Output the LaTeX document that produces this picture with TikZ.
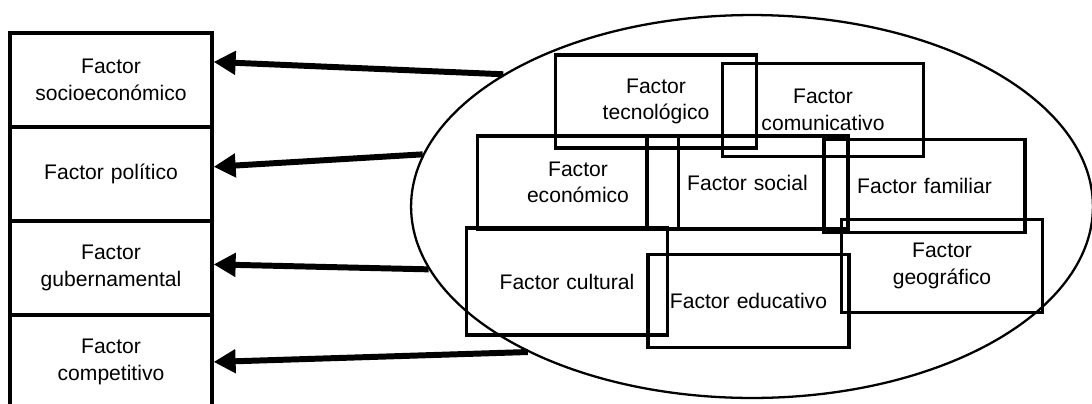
\documentclass[tikz,border=0pt]{standalone}
\usepackage{fontspec}
\setmainfont{Liberation Sans}
\usetikzlibrary{shapes,arrows.meta,positioning}

\begin{document}
\begin{tikzpicture}[x=0.02cm, y=-0.02cm, node distance=1.88cm]
    % Styles
    \tikzstyle{lado} = [rectangle, draw, line width=1.9pt, text width=3.8cm, align=center, minimum width=4.04cm, minimum height=1.88cm, inner sep=0pt, font=\fontsize{12}{15}\selectfont]
    \tikzstyle{factor} = [rectangle, draw, line width=1.9pt, text width=3.8cm, align=center, minimum width=4.02cm, minimum height=1.86cm, inner sep=0pt, font=\fontsize{12}{15}\selectfont]
    \tikzstyle{arrow} = [line width=3.4pt, -{Triangle[length=12.5pt,width=13pt]}]

    \useasboundingbox (0,0) rectangle (1092,403);

    % Left column
    \node [lado] (soc) at (111,80) {Factor\\socioeconómico};
    \node [lado, below of=soc] (pol) {Factor político};
    \node [lado, below of=pol] (gub) {Factor\\gubernamental};
    \node [lado, below of=gub] (comp) {Factor\\competitivo};

    % Ellipse and inner factors
    \node [ellipse, draw, line width=1.3pt, minimum width=13.64cm, minimum height=7.66cm, inner sep=0pt] (grupo) at (752,206.5) {};
    \node [factor] (tec) at (656,101.5) {Factor\\tecnológico};
    \node [factor] (comu) at (823,110) {Factor\\comunicativo};
    \node [factor] (eco) at (578,182.5) {Factor\\económico};
    \node [factor] (soci) at (747.5,182.5) {Factor social};
    \node [factor] (fam) at (924.5,186) {Factor familiar};
    \node [factor, minimum height=2.14cm] (cul) at (567,281.5) {Factor cultural};
    \node [factor] (edu) at (748.5,301) {Factor educativo};
    \node [factor] (geo) at (942,266) {Factor\\geográfico};

    % Arrows
    \draw [arrow] (grupo.152.4) -- (soc.10);
    \draw [arrow] (grupo.171.6) -- (pol.4.8);
    \draw [arrow] (grupo.191.7) -- (gub.2.8);
    \draw [arrow] (grupo.213.4) -- (comp.east);
\end{tikzpicture}
\end{document}
